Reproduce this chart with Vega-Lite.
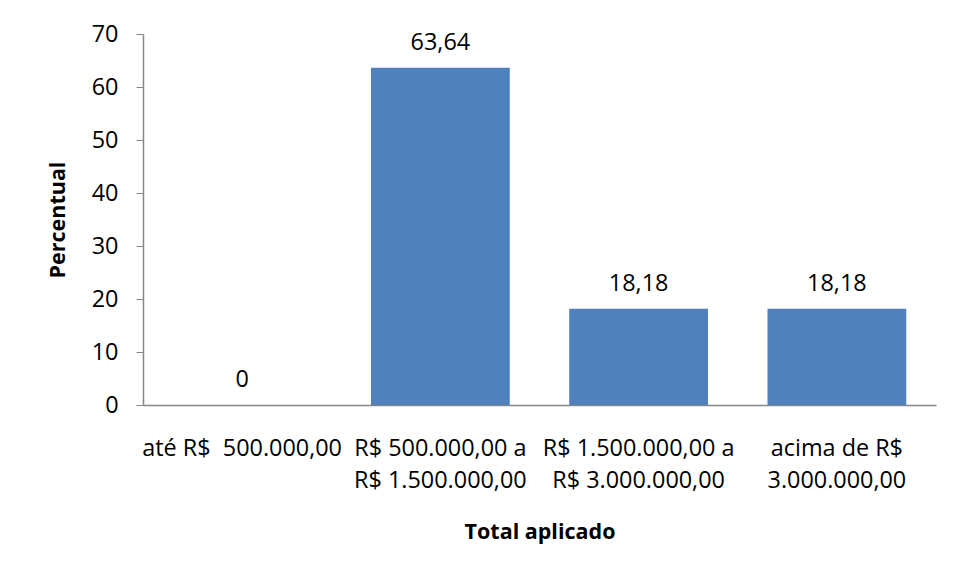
{
  "$schema": "https://vega.github.io/schema/vega-lite/v6.json",
  "width": 793,
  "height": 371,
  "autosize": "none",
  "padding": {"left": 143, "top": 34, "right": 21, "bottom": 170},
  "background": "white",
  "config": {
    "view": {"stroke": null},
    "font": "Open Sans",
    "locale": {
      "number": {"decimal": ",", "thousands": ".", "grouping": [3], "currency": ["R$ ", ""]}
    }
  },
  "data": {
    "values": [
      {"faixa": "até R$\u00a0 500.000,00", "percentual": 0},
      {"faixa": "R$ 500.000,00 a\nR$ 1.500.000,00", "percentual": 63.64},
      {"faixa": "R$ 1.500.000,00 a\nR$ 3.000.000,00", "percentual": 18.18},
      {"faixa": "acima de R$\n3.000.000,00", "percentual": 18.18}
    ]
  },
  "encoding": {
    "x": {
      "field": "faixa",
      "type": "nominal",
      "sort": null,
      "scale": {"paddingInner": 0.3, "paddingOuter": 0.15},
      "axis": {
        "title": "Total aplicado",
        "titleFontSize": 21.5,
        "titleFontWeight": "bold",
        "titleColor": "#000000",
        "titlePadding": 30,
        "labelAngle": 0,
        "labelFontSize": 23.4,
        "labelColor": "#000000",
        "labelLineHeight": 32,
        "labelPadding": 32,
        "labelLimit": 0,
        "labelExpr": "split(datum.label, '\\n')",
        "ticks": false,
        "domainColor": "#868686",
        "domainWidth": 1.5
      }
    },
    "y": {
      "field": "percentual",
      "type": "quantitative",
      "scale": {"domain": [0, 70], "nice": false},
      "axis": {
        "title": "Percentual",
        "titleFontSize": 21.5,
        "titleFontWeight": "bold",
        "titleColor": "#000000",
        "titlePadding": 22,
        "values": [0, 10, 20, 30, 40, 50, 60, 70],
        "grid": false,
        "labelFontSize": 23.4,
        "labelColor": "#000000",
        "labelPadding": 18,
        "tickSize": 7,
        "tickColor": "#868686",
        "domainColor": "#868686",
        "domainWidth": 1.5
      }
    }
  },
  "layer": [
    {"mark": {"type": "bar", "color": "#4F81BD"}},
    {
      "mark": {"type": "text", "baseline": "alphabetic", "dy": -18, "fontSize": 23.4, "color": "#000000"},
      "encoding": {"text": {"field": "percentual", "type": "quantitative", "format": ".2~f"}}
    }
  ]
}
